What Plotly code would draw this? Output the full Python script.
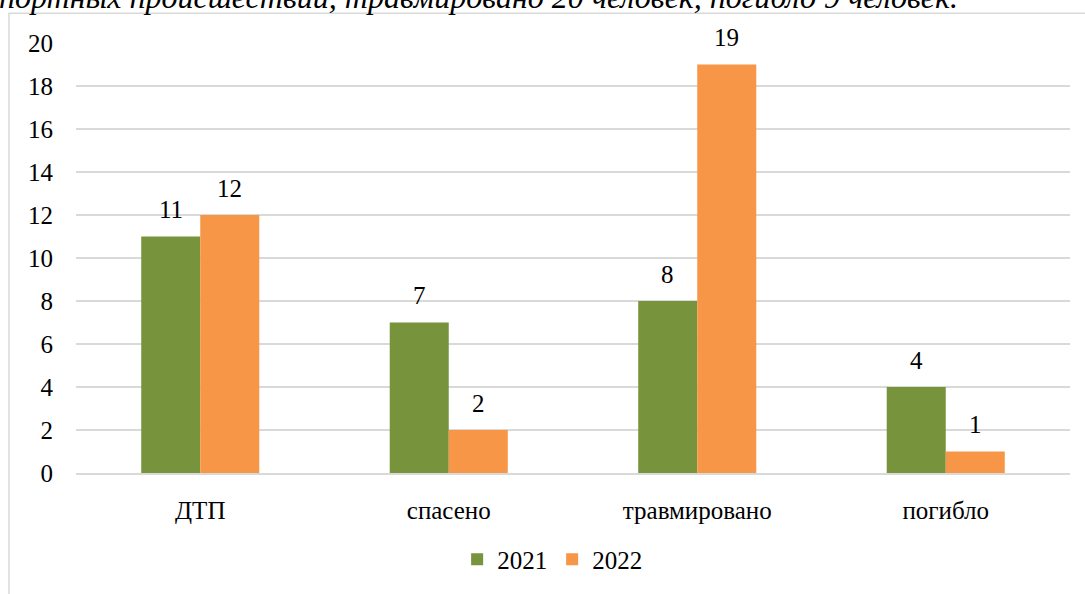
import plotly.graph_objects as go

categories = ["ДТП", "спасено", "травмировано", "погибло"]
values_2021 = [11, 7, 8, 4]
values_2022 = [12, 2, 19, 1]
series_names = ["2021", "2022"]
y_ticks = [0, 2, 4, 6, 8, 10, 12, 14, 16, 18, 20]
caption = "портных происшествий, травмировано 20 человек, погибло 9 человек."

FONT = "Times New Roman, Liberation Serif, serif"
W, H = 1085, 594
L, R, T, B = 76, 15, 43, 118
pw, ph = W - L - R, H - T - B

def px_x(x):
    return (x - L) / pw

def px_y(y):
    return (H - B - y) / ph

fig = go.Figure()
fig.add_trace(go.Bar(x=categories, y=values_2021, name=series_names[0],
                     marker=dict(color="#77933C", line=dict(width=0))))
fig.add_trace(go.Bar(x=categories, y=values_2022, name=series_names[1],
                     marker=dict(color="#F79646", line=dict(width=0))))

# value labels above each bar (offset half a bar width left/right of the category)
bar_half = 29.5
annotations = []
for vals, shift in ((values_2021, -bar_half), (values_2022, bar_half)):
    for c, v in zip(categories, vals):
        annotations.append(dict(x=c, y=v, xref="x", yref="y", text=str(v),
                                showarrow=False, xshift=shift, yshift=27,
                                yanchor="middle", xanchor="center",
                                font=dict(family=FONT, size=25, color="#000000")))

annotations.append(dict(text="<i>" + caption + "</i>", xref="paper", yref="paper",
                        x=px_x(-3), xanchor="left", y=px_y(17), yanchor="bottom",
                        showarrow=False,
                        font=dict(family=FONT, size=32, color="#000000")))

fig.update_layout(
    width=W, height=H,
    margin=dict(l=L, r=R, t=T, b=B),
    paper_bgcolor="white", plot_bgcolor="white",
    barmode="group", bargap=0.525, bargroupgap=0,
    font=dict(family=FONT, size=25, color="#000000"),
    showlegend=True,
    legend=dict(orientation="h", x=0.479, xanchor="center", y=px_y(563), yanchor="middle",
                font=dict(family=FONT, size=25, color="#000000"),
                itemwidth=30, traceorder="normal"),
    xaxis=dict(showgrid=False, showline=True, linecolor="#d9d9d9", linewidth=1.5,
               ticks="", ticklabelstandoff=14,
               tickfont=dict(family=FONT, size=25, color="#000000")),
    yaxis=dict(range=[0, 20], tickvals=y_ticks, showgrid=True, gridcolor="#d9d9d9",
               gridwidth=1.5, zeroline=False, showline=False, ticks="",
               ticklabelstandoff=22,
               tickfont=dict(family=FONT, size=25, color="#000000")),
    shapes=[dict(type="rect", xref="paper", yref="paper",
                 x0=px_x(9), x1=px_x(1100), y0=px_y(610), y1=px_y(13),
                 line=dict(color="#d9d9d9", width=1.5), fillcolor="rgba(0,0,0,0)",
                 layer="below")],
    annotations=annotations,
)

fig.write_html("out.html", config={"displayModeBar": False},
               post_script="document.body.style.margin='0';document.body.style.overflow='hidden';")
